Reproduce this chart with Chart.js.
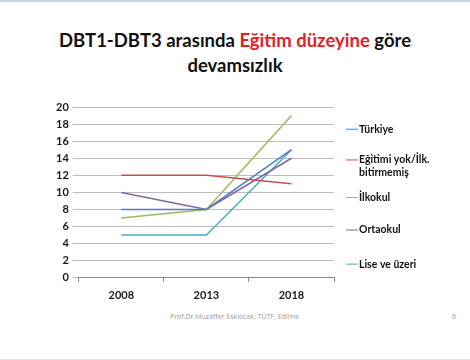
<!DOCTYPE html>
<html>
<head>
<meta charset="utf-8">
<script src="https://cdn.jsdelivr.net/npm/chart.js@4"></script>
<style>
  html, body { margin: 0; padding: 0; background: #fff; }
  #slide { position: relative; width: 470px; height: 360px; overflow: hidden; background: #fff;
           border-top: 2px solid #c9d4e2; border-bottom: 1px solid #dde4ee; box-sizing: border-box; }
  #title { position: absolute; left: 0; top: 26px; width: 470px; text-align: center;
           font-family: Lato, "Open Sans", sans-serif; font-weight: bold; font-size: 18.5px;
           line-height: 25px; color: #111; }
  #title .red { color: #e3202a; }
  #chartBox { position: absolute; left: 0; top: 90px; width: 470px; height: 220px; }
  #footer { position: absolute; left: 170px; top: 310px; font-family: "Open Sans", sans-serif;
            font-size: 7px; color: #999; }
  #page { position: absolute; left: 452px; top: 310px; font-family: "Open Sans", sans-serif;
          font-size: 7px; color: #999; }
</style>
</head>
<body>
<div id="slide">
  <div id="title">DBT1-DBT3 arasında <span class="red">Eğitim düzeyine</span> göre<br>devamsızlık</div>
  <div id="chartBox"><canvas id="absenceChart" width="470" height="220"></canvas></div>
  <div id="footer">Prof.Dr.Muzaffer Eskiocak, TÜTF, Edirne</div>
  <div id="page">6</div>
</div>
<script>
const years = ['2008', '2013', '2018'];
const yTicks = [0, 2, 4, 6, 8, 10, 12, 14, 16, 18, 20];

const turkiye = [8, 8, 15];
const egitimiYok = [12, 12, 11];
const ilkokul = [7, 8, 19];
const ortaokul = [10, 8, 14];
const liseVeUzeri = [5, 5, 15];

const seriesNames = ['Türkiye', ['Eğitimi yok/İlk.', 'bitirmemiş'], 'İlkokul', 'Ortaokul', 'Lise ve üzeri'];
const seriesColors = ['#4f81bd', '#c0504d', '#9bbb59', '#8064a2', '#4bacc6'];
const seriesValues = [turkiye, egitimiYok, ilkokul, ortaokul, liseVeUzeri];

// where each legend entry sits, as a share of the plot height
const legendSlots = [0.13, 0.31, 0.53, 0.72, 0.92];

const sideLegend = {
    id: 'sideLegend',
    afterDraw(chart) {
        const { ctx, chartArea } = chart;
        const h = chartArea.bottom - chartArea.top;
        ctx.save();
        ctx.font = 'bold 10.5px Lato, "Open Sans", sans-serif';
        ctx.textBaseline = 'middle';
        chart.data.datasets.forEach((ds, i) => {
            const lines = Array.isArray(ds.label) ? ds.label : [ds.label];
            const y = chartArea.top + h * legendSlots[i];
            const x0 = chartArea.right + 12;
            ctx.strokeStyle = ds.borderColor;
            ctx.lineWidth = 1;
            ctx.beginPath();
            ctx.moveTo(x0, y);
            ctx.lineTo(x0 + 12, y);
            ctx.stroke();
            ctx.fillStyle = '#111';
            lines.forEach((t, k) => {
                ctx.fillText(t, x0 + 13, y + k * 13);
            });
        });
        ctx.restore();
    }
};

new Chart(document.getElementById('absenceChart').getContext('2d'), {
    type: 'line',
    data: {
        labels: years,
        datasets: seriesValues.map((vals, i) => ({
            label: seriesNames[i],
            data: vals,
            borderColor: seriesColors[i],
            backgroundColor: seriesColors[i],
            borderWidth: 1.5,
            pointRadius: 0,
            tension: 0,
            fill: false
        }))
    },
    options: {
        responsive: false,
        animation: false,
        layout: { padding: { left: 52, right: 136, top: 15, bottom: 3 } },
        plugins: { legend: { display: false }, tooltip: { enabled: false } },
        scales: {
            x: {
                offset: true,
                grid: { display: true, drawOnChartArea: false, offset: true, tickLength: 4, color: '#888' },
                border: { color: '#888' },
                ticks: { padding: 7, color: '#1a1a1a', font: { family: 'Lato, "Open Sans", sans-serif', weight: 'bold', size: 11 } }
            },
            y: {
                min: 0,
                max: 20,
                afterBuildTicks(axis) { axis.ticks = yTicks.map(v => ({ value: v })); },
                grid: { color: '#bdbdbd', tickLength: 6 },
                border: { display: false },
                ticks: { padding: 4, color: '#1a1a1a', font: { family: 'Lato, "Open Sans", sans-serif', weight: 'bold', size: 11 } }
            }
        }
    },
    plugins: [sideLegend]
});
</script>
</body>
</html>
